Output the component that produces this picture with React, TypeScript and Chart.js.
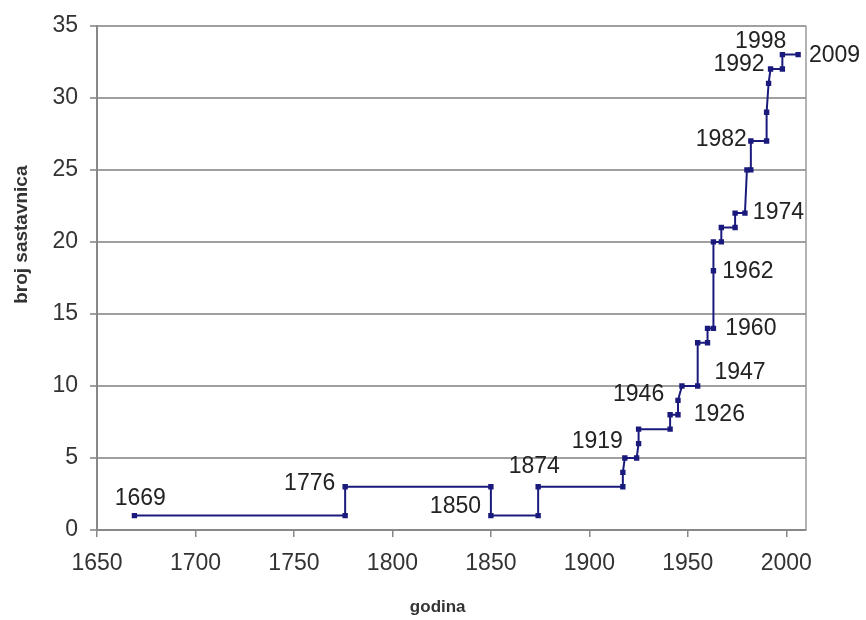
import React, { useEffect, useRef } from "react";
import { Chart, registerables } from "chart.js";

Chart.register(...registerables);

// step data: years and number of constituents (broj sastavnica)
const years = [
  1669, 1776, 1776, 1850, 1850, 1874, 1874, 1917, 1917, 1918, 1924, 1925, 1925,
  1941, 1941, 1945, 1945, 1947, 1955, 1955, 1960, 1960, 1963, 1963, 1963, 1967,
  1967, 1974, 1974, 1979, 1980, 1982, 1982, 1990, 1990, 1991, 1992, 1998, 1998,
  2006,
];
const counts = [
  1, 1, 3, 3, 1, 1, 3, 3, 4, 5, 5, 6, 7, 7, 8, 8, 9, 10, 10, 13, 13, 14, 14, 18,
  20, 20, 21, 21, 22, 22, 25, 25, 27, 27, 29, 31, 32, 32, 33, 33,
];

// annotation labels and their anchor points (data units)
const labelTexts = [
  "1669", "1776", "1850", "1874", "1919", "1926", "1946", "1947", "1960",
  "1962", "1974", "1982", "1992", "1998", "2009",
];
const labelYears = [
  1672, 1758, 1832, 1872, 1904, 1966, 1925, 1976.5, 1982, 1980.5, 1996, 1967,
  1976, 1987, 2024.5,
];
const labelValues = [
  2.2, 3.2, 1.65, 4.4, 6.1, 8.0, 9.4, 10.9, 14, 17.9, 22.05, 27.1, 32.3, 33.9,
  32.9,
];

const xTicks = [1650, 1700, 1750, 1800, 1850, 1900, 1950, 2000];
const xTitle = "godina";
const yTitle = "broj sastavnica";

const FONT = "'Liberation Sans', Arial, sans-serif";

export default function App() {
  const ref = useRef<HTMLCanvasElement | null>(null);

  useEffect(() => {
    if (!ref.current) return;
    const labelsPlugin = {
      id: "stepLabels",
      afterDraw(chart: any) {
        const ctx = chart.ctx;
        const xs = chart.scales.x;
        const ys = chart.scales.y;
        const area = chart.chartArea;
        ctx.save();
        // right border of plot area
        ctx.strokeStyle = "#9a9a9a";
        ctx.lineWidth = 1.5;
        ctx.beginPath();
        ctx.moveTo(area.right, area.top);
        ctx.lineTo(area.right, area.bottom);
        ctx.stroke();
        // annotations
        ctx.fillStyle = "#222";
        ctx.font = `23px ${FONT}`;
        ctx.textAlign = "center";
        ctx.textBaseline = "middle";
        labelTexts.forEach((t, i) => {
          ctx.fillText(t, xs.getPixelForValue(labelYears[i]), ys.getPixelForValue(labelValues[i]));
        });
        // axis titles
        ctx.fillStyle = "#333";
        ctx.font = `bold 17px ${FONT}`;
        ctx.fillText(xTitle, xs.getPixelForValue(1823), 607);
        ctx.font = `bold 19px ${FONT}`;
        ctx.translate(22, ys.getPixelForValue(20.5));
        ctx.rotate(-Math.PI / 2);
        ctx.fillText(yTitle, 0, 0);
        ctx.restore();
      },
    };

    const chart = new Chart(ref.current, {
      type: "line",
      data: {
        datasets: [
          {
            data: years.map((y, i) => ({ x: y, y: counts[i] })),
            borderColor: "#1a1a7c",
            backgroundColor: "#1a1a7c",
            borderWidth: 2,
            pointStyle: "rect",
            pointRadius: 3.8,
            pointBorderWidth: 0,
            fill: false,
            tension: 0,
          },
        ],
      },
      options: {
        responsive: false,
        animation: false,
        layout: { padding: { left: 0, top: 22, right: 60, bottom: 0 } },
        plugins: {
          legend: { display: false },
          tooltip: { enabled: false },
        },
        scales: {
          x: {
            type: "linear",
            min: 1650,
            max: 2010,
            afterBuildTicks: (s: any) => {
              s.ticks = xTicks.map((v) => ({ value: v }));
            },
            afterFit: (s: any) => {
              s.height = 90;
            },
            ticks: {
              color: "#333",
              font: { family: FONT, size: 23 },
              padding: 13,
              maxRotation: 0,
              callback: (v: any) => String(v),
            },
            grid: {
              drawOnChartArea: false,
              color: "#888",
              tickLength: 7,
              lineWidth: 1.5,
            },
            border: { color: "#888", width: 2 },
          },
          y: {
            min: 0,
            max: 35,
            ticks: {
              stepSize: 5,
              color: "#333",
              font: { family: FONT, size: 23 },
              padding: 12,
            },
            afterFit: (s: any) => {
              s.width = 97;
            },
            grid: {
              color: "#a0a0a0",
              lineWidth: 2,
              tickLength: 7,
            },
            border: { color: "#888", width: 2 },
          },
        },
      },
      plugins: [labelsPlugin],
    } as any);
    return () => chart.destroy();
  }, []);

  return (
    <div style={{ position: "fixed", left: 0, top: 0, width: 866, height: 620, background: "#fff" }}>
      <canvas ref={ref} width={866} height={620} />
    </div>
  );
}
